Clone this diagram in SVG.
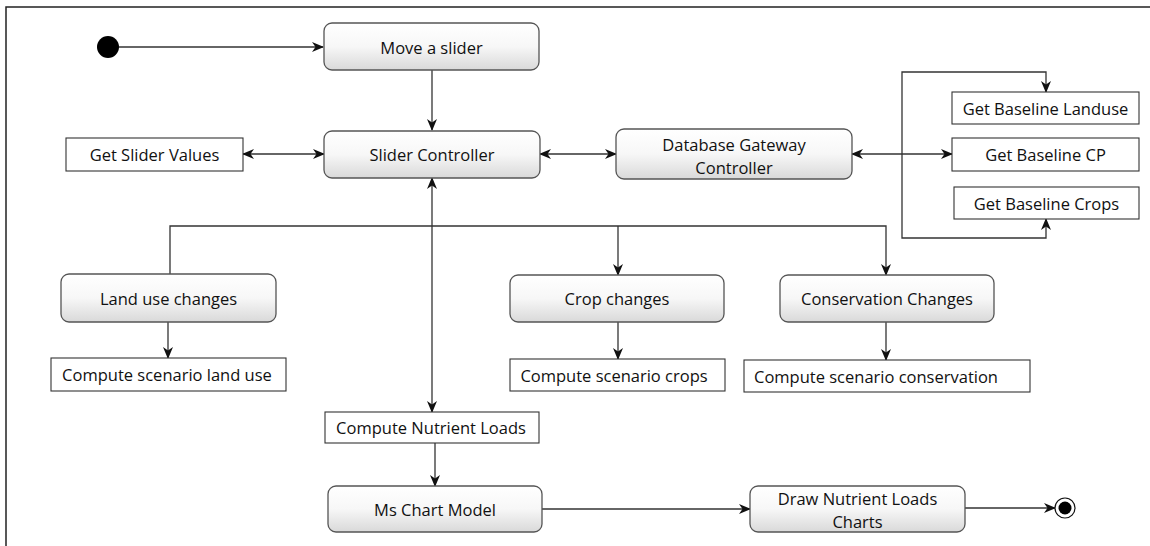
<svg xmlns="http://www.w3.org/2000/svg" width="1150" height="546" viewBox="0 0 1150 546">
<style>
.act{fill:url(#g);stroke:#555;stroke-width:1.3}
.box{fill:#fff;stroke:#333;stroke-width:1.1}
.t{font-family:"Open Sans","Liberation Sans",sans-serif;font-size:16.5px;fill:#111;text-anchor:middle;dominant-baseline:central}
.c{fill:none;stroke:#333;stroke-width:1.3}
.a{marker-end:url(#ah)}
.b{marker-start:url(#ah);marker-end:url(#ah)}
</style>
<defs>
<linearGradient id="g" x1="0" y1="0" x2="0" y2="1">
<stop offset="0" stop-color="#ffffff"/>
<stop offset="0.5" stop-color="#f7f7f7"/>
<stop offset="1" stop-color="#d9d9d9"/>
</linearGradient>
<marker id="ah" viewBox="0 0 12 10" refX="11" refY="5" markerWidth="12" markerHeight="10" markerUnits="userSpaceOnUse" orient="auto-start-reverse">
<path d="M0,0 L12,5 L0,10 L3.5,5 z" fill="#111"/>
</marker>
</defs>
<rect width="1150" height="546" fill="#fff"/>
<path d="M6,546 V7 H1150" fill="none" stroke="#222" stroke-width="1.5"/>

<g id="connectors">
<path class="c a" d="M119,47 H323"/>
<path class="c a" d="M432,70 V130"/>
<path class="c b" d="M243,154 H324"/>
<path class="c b" d="M540,154 H616"/>
<path class="c b" d="M852,154 H952"/>
<path class="c b" d="M1046,92 V72 H902 V238 H1046 V219"/>
<path class="c b" d="M432,178 V412"/>
<path class="c a" d="M170,274 V226 H886 V275"/>
<path class="c a" d="M618,226 V275"/>
<path class="c a" d="M168,322 V358"/>
<path class="c a" d="M618,322 V359"/>
<path class="c a" d="M886,322 V360"/>
<path class="c a" d="M435,443 V486"/>
<path class="c a" d="M542,509 H750"/>
<path class="c a" d="M965,508 H1055"/>
</g>

<g id="start"><circle cx="108" cy="47" r="11" fill="#000"/></g>
<g id="end"><circle cx="1065" cy="508" r="10" fill="#fff" stroke="#111" stroke-width="1.2"/><circle cx="1065" cy="508" r="6.5" fill="#000"/></g>

<g id="move-slider"><rect class="act" x="324" y="23" width="215" height="47" rx="8"/><text class="t" x="431.5" y="47">Move a slider</text></g>
<g id="slider-controller"><rect class="act" x="324" y="131" width="216" height="47" rx="8"/><text class="t" x="432" y="154">Slider Controller</text></g>
<g id="get-slider-values"><rect class="box" x="66" y="138" width="177" height="33"/><text class="t" x="154.5" y="154.5">Get Slider Values</text></g>
<g id="db-gateway"><rect class="act" x="616" y="129" width="236" height="50" rx="8"/><text class="t" x="734" y="144">Database Gateway</text><text class="t" x="734" y="167">Controller</text></g>
<g id="baseline-landuse"><rect class="box" x="952" y="92" width="187" height="32"/><text class="t" x="1045.5" y="108">Get Baseline Landuse</text></g>
<g id="baseline-cp"><rect class="box" x="952" y="138" width="187" height="33"/><text class="t" x="1045.5" y="154.5">Get Baseline CP</text></g>
<g id="baseline-crops"><rect class="box" x="954" y="187" width="185" height="32"/><text class="t" x="1046.5" y="203">Get Baseline Crops</text></g>
<g id="land-use-changes"><rect class="act" x="61" y="274" width="215" height="48" rx="8"/><text class="t" x="168.5" y="298">Land use changes</text></g>
<g id="compute-land-use"><rect class="box" x="51" y="358" width="235" height="33"/><text class="t" x="167" y="374.5">Compute scenario land use</text></g>
<g id="crop-changes"><rect class="act" x="510" y="275" width="214" height="47" rx="8"/><text class="t" x="617" y="298.5">Crop changes</text></g>
<g id="compute-crops"><rect class="box" x="510" y="359" width="215" height="32"/><text class="t" x="614" y="375">Compute scenario crops</text></g>
<g id="conservation-changes"><rect class="act" x="780" y="275" width="214" height="47" rx="8"/><text class="t" x="887" y="298.5">Conservation Changes</text></g>
<g id="compute-conservation"><rect class="box" x="744" y="360" width="286" height="32"/><text class="t" x="876" y="376">Compute scenario conservation</text></g>
<g id="compute-nutrient"><rect class="box" x="325" y="412" width="214" height="31"/><text class="t" x="431" y="427.5">Compute Nutrient Loads</text></g>
<g id="ms-chart"><rect class="act" x="328" y="486" width="214" height="46" rx="8"/><text class="t" x="435" y="509">Ms Chart Model</text></g>
<g id="draw-charts"><rect class="act" x="750" y="486" width="215" height="46" rx="8"/><text class="t" x="857.5" y="498">Draw Nutrient Loads</text><text class="t" x="857.5" y="521">Charts</text></g>
</svg>
